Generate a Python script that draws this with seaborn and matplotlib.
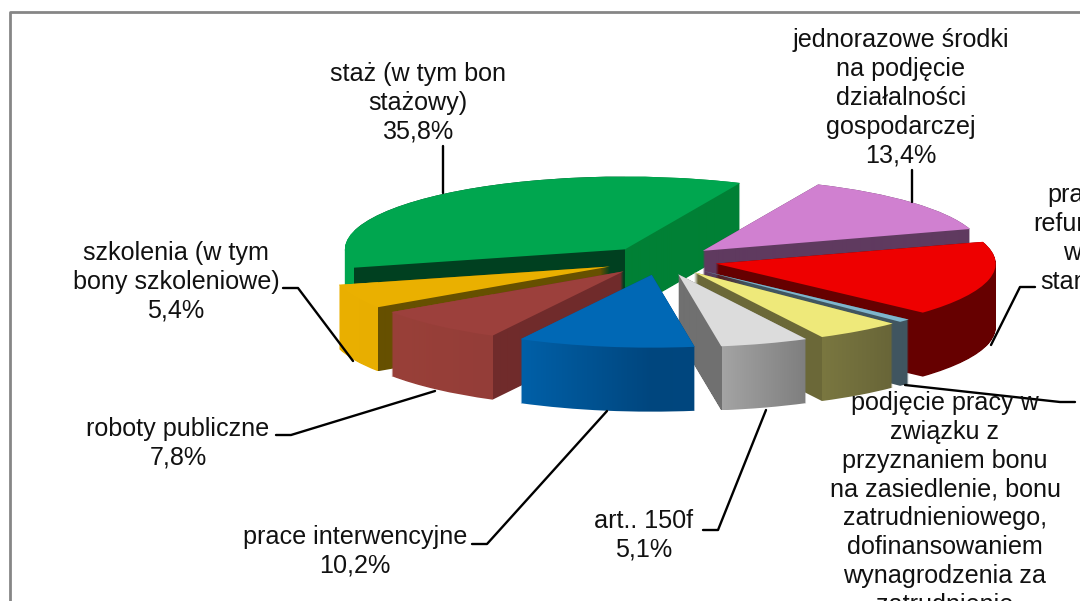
import numpy as np
import matplotlib
matplotlib.use('Agg')
import matplotlib.pyplot as plt
import seaborn as sns
from matplotlib.colors import to_rgb
from matplotlib.path import Path

# slices, going counter-clockwise from the right edge of the green one
slice_names = ['staż', 'szkolenia', 'roboty publiczne', 'prace interwencyjne', 'art. 150f',
               'inne', 'bon na zasiedlenie', 'prace refundowane', 'jednorazowe środki']
slice_values = [35.8, 5.4, 7.8, 10.2, 5.1, 5.0, 0.7, 16.6, 13.4]
top_colors = ['#00a64f', '#eab000', '#9c403c', '#0068b5', '#dcdcdc',
              '#eee97a', '#7fb5cc', '#ee0000', '#d080d0']

# colours of the side walls, one (left, right) pair per visible face, left to right
side_colors = [
    [('#00a64f', '#00a64f'), ('#004020', '#004020'), ('#008035', '#008035')],
    [('#eab000', '#e8ae00'), ('#665000', '#665000')],
    [('#994038', '#943d38'), ('#702b2b', '#702b2b')],
    [('#0060a8', '#00467e'), ('#00467e', '#00467e')],
    [('#707070', '#707070'), ('#a4a4a4', '#7e7e7e')],
    [('#6b6838', '#6b6838'), ('#7a7740', '#686538')],
    [('#405560', '#405560'), ('#405560', '#405560')],
    [('#660000', '#660000'), ('#660000', '#660000')],
    [('#5f3a5f', '#5f3a5f'), ('#5f3a5f', '#5f3a5f')],
]
draw_order = [1, 2, 3, 7, 6, 5, 4, 3, 2]

# label text, centre x, centre y in pixels
chart_labels = [
    ('staż (w tym bon\nstażowy)\n35,8%', 418, 103),
    ('jednorazowe środki\nna podjęcie\ndziałalności\ngospodarczej\n13,4%', 901, 98),
    ('szkolenia (w tym\nbony szkoleniowe)\n5,4%', 176, 282),
    ('roboty publiczne\n7,8%', 178, 443),
    ('prace interwencyjne\n10,2%', 355, 551),
    ('art.. 150f\n5,1%', 644, 535),
    ('podjęcie pracy w\nzwiązku z\nprzyznaniem bonu\nna zasiedlenie, bonu\nzatrudnieniowego,\n'
     'dofinansowaniem\nwynagrodzenia za\nzatrudnienie', 945, 504),
]
# the cut-off label at the right edge: text, left x, centre y
red_label_lines = [('prace', 1047, 195), ('refundowane', 1033, 224), ('w', 1063, 253), ('stanie', 1040, 282)]

leader_lines = [
    [(443, 146), (443, 193)],
    [(912, 170), (912, 202)],
    [(1035, 287), (1020, 287), (991, 345)],
    [(905, 385), (1060, 402), (1075, 402)],
    [(283, 288), (298, 288), (353, 361)],
    [(276, 435), (291, 435), (435, 391)],
    [(472, 544), (487, 544), (607, 411)],
    [(703, 530), (718, 530), (766, 410)],
]

squash = 0.26
pie_depth = 64
pie_center = (661, 260.5)
pie_radius = 280
pie_explode = 56

sns.set_theme(style='white')
plt.rcParams['font.family'] = ['Liberation Sans', 'DejaVu Sans']

fig = plt.figure(figsize=(10.8, 6.01), dpi=100)
ax = fig.add_axes([0, 0, 1, 1])


def py(y):
    # pixel row to data y, data y is stretched so the round pie comes out flat
    return -y / squash


wedges, _ = ax.pie(slice_values, colors=sns.color_palette(top_colors), startangle=65.7,
                   explode=[pie_explode] * len(slice_values), radius=pie_radius,
                   center=(pie_center[0], py(pie_center[1])),
                   wedgeprops={'linewidth': 0})
ax.set_aspect('auto')

for w, stops, z in zip(wedges, side_colors, draw_order):
    path = w.get_path()
    layers = [Path(path.vertices + [0, -i / squash], path.codes) for i in range(pie_depth + 1)]
    side = Path.make_compound_path(*layers)

    # faces change where the corners of the slice are
    a1, a2 = np.radians(w.theta1), np.radians(w.theta2)
    cx = w.center[0]
    xs = path.vertices[:, 0]
    corners = sorted([cx, cx + w.r * np.cos(a1), cx + w.r * np.cos(a2), xs.min(), xs.max()])
    breaks = [corners[0]]
    for c in corners[1:]:
        if c - breaks[-1] > 1:
            breaks.append(c)

    px = np.arange(int(breaks[0]) - 1, int(breaks[-1]) + 2)
    row = np.zeros((len(px), 3))
    for j in range(len(breaks) - 1):
        left, right = stops[min(j, len(stops) - 1)]
        m = (px >= breaks[j] - 1) if j == 0 else (px >= breaks[j])
        if j < len(breaks) - 2:
            m = m & (px < breaks[j + 1])
        t = np.clip((px[m] - breaks[j]) / (breaks[j + 1] - breaks[j]), 0, 1)[:, None]
        row[m] = np.array(to_rgb(left)) * (1 - t) + np.array(to_rgb(right)) * t

    y0 = side.vertices[:, 1].min()
    y1 = side.vertices[:, 1].max()
    im = ax.imshow(row[None, :, :], extent=(px[0], px[-1] + 1, y0, y1), aspect='auto',
                   interpolation='nearest', zorder=z)
    im.set_clip_path(side, ax.transData)
    w.set_zorder(z + 0.5)

for pts in leader_lines:
    ax.plot([p[0] for p in pts], [py(p[1]) for p in pts], color='black', lw=1.7, zorder=9)

# grey frame, only the top and left are inside the picture
ax.plot([1090, 9.5, 9.5], [py(11.5), py(11.5), py(610)], color='#868686', lw=2, zorder=9)

for txt, x, y in chart_labels:
    ax.text(x, py(y), txt, ha='center', va='center', ma='center', fontsize=18.1,
            linespacing=1.26, color='#111111', zorder=10)
for txt, x, y in red_label_lines:
    ax.text(x, py(y), txt, ha='left', va='center', fontsize=18.1, color='#111111', zorder=10)

ax.set_xlim(0, 1080)
ax.set_ylim(py(601), py(0))
ax.axis('off')
fig.savefig('out.png', dpi=100, facecolor='white')
